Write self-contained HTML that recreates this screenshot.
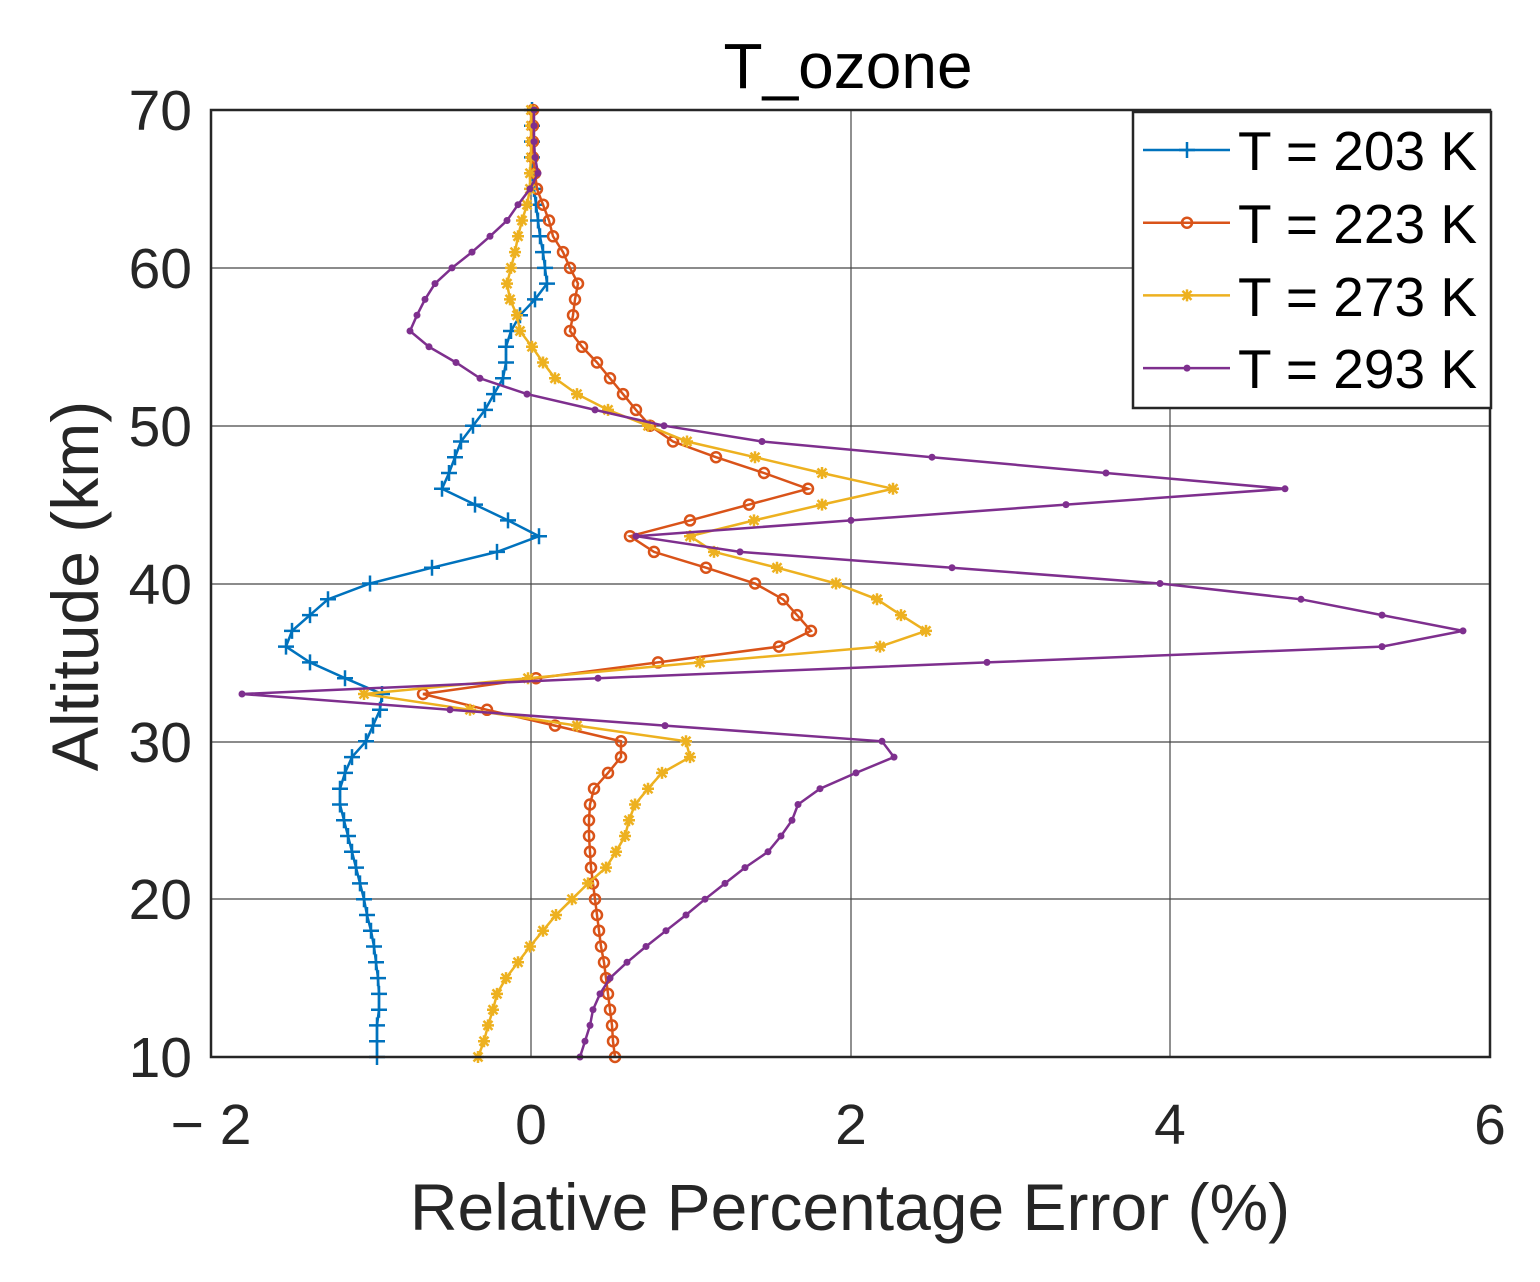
<!DOCTYPE html>
<html><head><meta charset="utf-8"><style>
html,body{margin:0;padding:0;background:#fff;}
svg{display:block;font-family:"Liberation Sans",Arial,sans-serif;}
</style></head><body>
<svg id="s" width="1540" height="1282" viewBox="0 0 1540 1282" xmlns="http://www.w3.org/2000/svg">
<rect width="1540" height="1282" fill="#fff"/>
<rect x="211" y="110" width="1279" height="947" fill="#fff"/>
<g stroke="#262626" stroke-width="1.2" opacity="0.85">
<line x1="531" y1="110" x2="531" y2="1057"/><line x1="851" y1="110" x2="851" y2="1057"/><line x1="1170" y1="110" x2="1170" y2="1057"/>
<line x1="211" y1="268" x2="1490" y2="268"/><line x1="211" y1="426" x2="1490" y2="426"/><line x1="211" y1="584" x2="1490" y2="584"/><line x1="211" y1="742" x2="1490" y2="742"/><line x1="211" y1="899" x2="1490" y2="899"/>
</g>
<g id="plots"></g>
<rect x="211" y="110" width="1279" height="947" fill="none" stroke="#262626" stroke-width="2.5"/>
<g font-size="57" fill="#262626" text-anchor="middle">
<text x="211" y="1144">− 2</text><text x="531" y="1144">0</text><text x="851" y="1144">2</text><text x="1170" y="1144">4</text><text x="1490" y="1144">6</text>
</g>
<g font-size="57" fill="#262626" text-anchor="end">
<text x="192" y="130">70</text><text x="192" y="288">60</text><text x="192" y="446">50</text><text x="192" y="604">40</text><text x="192" y="762">30</text><text x="192" y="919">20</text><text x="192" y="1077">10</text>
</g>
<text x="848" y="88" font-size="64" text-anchor="middle" fill="#000">T_ozone</text>
<text x="850" y="1230" font-size="66" text-anchor="middle" fill="#262626">Relative Percentage Error (%)</text>
<text transform="translate(98,586) rotate(-90)" font-size="66" text-anchor="middle" fill="#262626">Altitude (km)</text>
<rect x="1133" y="112" width="358" height="296" fill="#fff" stroke="#262626" stroke-width="2.5"/>
<g id="leg"></g>
<g font-size="55" fill="#000">
<text x="1238" y="170">T = 203 K</text><text x="1238" y="243">T = 223 K</text><text x="1238" y="316">T = 273 K</text><text x="1238" y="388">T = 293 K</text>
</g>
</svg>
<script>
var B=[377,377,377,379,379,378,376,374,371,367,364,360,356,352,348,344,340,340,345,352,366,373,380,382,345,310,286,292,310,328,370,432,497,539,508,475,442,449,455,461,473,485,494,503,506,506,511,520,535,547,545,543,540,538,536,534,533,532,532,532,532];
var O=[615,613,612,610,608,606,604,601,599,597,595,593,591,590,589,589,590,594,608,621,621,555,487,423,536,658,779,811,797,783,755,706,654,630,690,749,808,764,716,673,650,636,623,610,597,582,570,573,575,578,570,563,553,549,543,537,535,533,533,533,533];
var Y=[478,484,488,493,497,506,518,530,543,556,572,588,606,616,625,629,635,648,662,690,686,577,470,364,528,700,880,926,901,877,836,777,714,690,754,822,893,822,755,687,648,608,577,555,543,532,520,517,510,507,511,515,518,522,527,530,530,531,531,531,531];
var P=[580,585,590,593,600,610,627,646,666,686,705,725,745,768,781,792,798,820,856,894,882,665,450,242,598,987,1382,1463,1382,1301,1160,952,740,636,851,1066,1285,1106,932,762,664,595,527,480,456,429,410,417,425,435,452,472,490,507,518,530,538,535,534,534,534];
function yy(i){return 1057-i*15.783;}
function mk(t,x,y,c){
 if(t=='+')return '<path d="M'+(x-8)+' '+y+'h16M'+x+' '+(y-8)+'v16" stroke="'+c+'" stroke-width="2.5"/>';
 if(t=='o')return '<circle cx="'+x+'" cy="'+y+'" r="5" fill="none" stroke="'+c+'" stroke-width="2.5"/>';
 if(t=='*')return '<path d="M'+(x-6)+' '+y+'h12M'+x+' '+(y-6)+'v12M'+(x-4.5)+' '+(y-4.5)+'l9 9M'+(x-4.5)+' '+(y+4.5)+'l9 -9" stroke="'+c+'" stroke-width="2.5"/>';
 return '<circle cx="'+x+'" cy="'+y+'" r="3.5" fill="'+c+'"/>';
}
var S=[[B,'#0072BD','+'],[O,'#D95319','o'],[Y,'#EDB120','*'],[P,'#7E2F8E','.']];
var h='',l='';
S.forEach(function(s,k){
 var pts=s[0].map(function(x,i){return x+','+yy(i).toFixed(1);}).join(' ');
 h+='<polyline points="'+pts+'" fill="none" stroke="'+s[1]+'" stroke-width="2.5"/>';
 s[0].forEach(function(x,i){h+=mk(s[2],x,+yy(i).toFixed(1),s[1]);});
 var ly=150+k*72.7;
 l+='<line x1="1143" y1="'+ly+'" x2="1230" y2="'+ly+'" stroke="'+s[1]+'" stroke-width="2.5"/>'+mk(s[2],1187,ly,s[1]);
});
document.getElementById('plots').innerHTML=h;
document.getElementById('leg').innerHTML=l;
</script>
</body></html>
